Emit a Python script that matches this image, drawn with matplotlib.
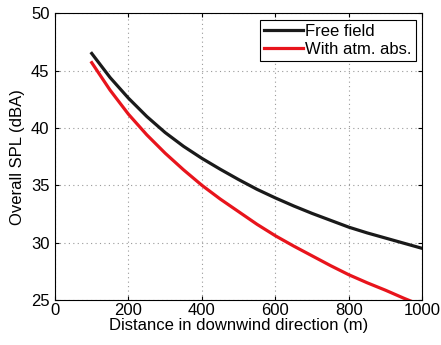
import matplotlib
matplotlib.use("Agg")
import matplotlib.pyplot as plt

plt.rcParams["font.family"] = ["Liberation Sans", "DejaVu Sans"]

distance_free = [100, 150, 200, 250, 300, 350, 400, 450, 500, 550, 600, 650, 700,
                 750, 800, 850, 900, 950, 1000]
spl_free = [46.5, 44.4, 42.6, 41.0, 39.6, 38.4, 37.35, 36.4, 35.5, 34.65, 33.9, 33.2,
            32.55, 31.95, 31.35, 30.85, 30.4, 29.95, 29.5]

distance_abs = [100, 150, 200, 250, 300, 350, 400, 450, 500, 550, 600, 650, 700,
                750, 800, 850, 900, 950, 1000]
spl_abs = [45.7, 43.3, 41.2, 39.4, 37.8, 36.35, 35.0, 33.8, 32.7, 31.6, 30.6, 29.7,
           28.85, 28.0, 27.2, 26.5, 25.85, 25.15, 24.5]

x_ticks = [0, 200, 400, 600, 800, 1000]
y_ticks = [25, 30, 35, 40, 45, 50]

fig = plt.figure(figsize=(4.41, 3.45), dpi=100)
ax = fig.add_axes([0.1247, 0.1304, 0.833, 0.831])

ax.plot(distance_free, spl_free, color="#1a1a1a", linewidth=2.3, label="Free field")
ax.plot(distance_abs, spl_abs, color="#e8141c", linewidth=2.3, label="With atm. abs.")

ax.set_xlim(0, 1000)
ax.set_ylim(25, 50)
ax.set_xticks(x_ticks)
ax.set_yticks(y_ticks)
ax.tick_params(direction="in", labelsize=12, length=3, top=True, right=True)
ax.tick_params(axis="x", pad=2)
ax.tick_params(axis="y", pad=4)
ax.grid(True, linestyle=(0, (1, 3)), color="#999999", linewidth=0.8)
for s in ax.spines.values():
    s.set_linewidth(0.8)

ax.set_xlabel("Distance in downwind direction (m)", fontsize=12, labelpad=0)
ax.set_ylabel("Overall SPL (dBA)", fontsize=12, labelpad=4)

leg = ax.legend(loc="upper right", fontsize=12, handlelength=2.3, handletextpad=0.15,
                borderpad=0.25, labelspacing=0.15, fancybox=False, framealpha=1,
                borderaxespad=0.4)
leg.get_frame().set_edgecolor("black")
leg.get_frame().set_linewidth(0.8)

fig.savefig("out.png", dpi=100)
